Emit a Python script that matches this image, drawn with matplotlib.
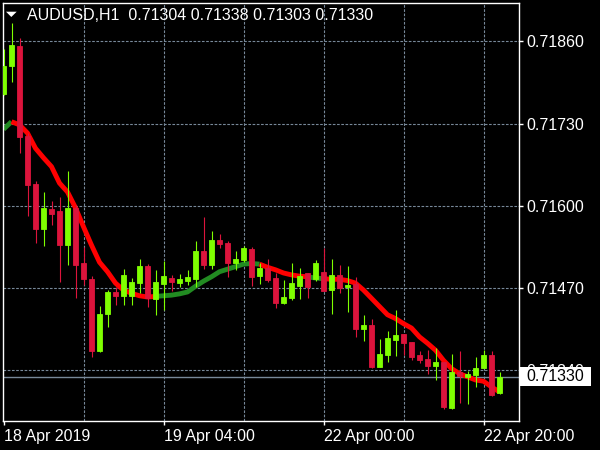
import matplotlib
matplotlib.use("Agg")
import matplotlib.pyplot as plt
from matplotlib.patches import Polygon, Rectangle
from matplotlib.transforms import blended_transform_factory

# AUDUSD H1 bars, oldest first (first bar is cut by the left edge)
opens = [0.71777, 0.71821, 0.71853, 0.71711, 0.71635, 0.71563, 0.71595, 0.71592, 0.71538, 0.71597,
         0.71510, 0.71484, 0.71371, 0.71429, 0.71464, 0.71458, 0.71458, 0.71478, 0.71505, 0.71453,
         0.71477, 0.71486, 0.71478, 0.71481, 0.71484, 0.71529, 0.71507, 0.71546, 0.71541, 0.71510,
         0.71514, 0.71532, 0.71489, 0.71502, 0.71486, 0.71447, 0.71454, 0.71473, 0.71494, 0.71484,
         0.71496, 0.71467, 0.71491, 0.71472, 0.71477, 0.71405, 0.71412, 0.71345, 0.71364, 0.71388,
         0.71398, 0.71385, 0.71364, 0.71358, 0.71347, 0.71353, 0.71281, 0.71337, 0.71330, 0.71333,
         0.71344, 0.71364, 0.71304]
highs = [0.71848, 0.71889, 0.71865, 0.71715, 0.71639, 0.71622, 0.71608, 0.71614, 0.71655, 0.71601,
         0.71535, 0.71489, 0.71442, 0.71467, 0.71472, 0.71500, 0.71486, 0.71516, 0.71508, 0.71498,
         0.71513, 0.71491, 0.71492, 0.71498, 0.71544, 0.71582, 0.71560, 0.71555, 0.71544, 0.71529,
         0.71537, 0.71535, 0.71510, 0.71516, 0.71494, 0.71483, 0.71510, 0.71502, 0.71494, 0.71514,
         0.71533, 0.71516, 0.71507, 0.71505, 0.71488, 0.71428, 0.71421, 0.71390, 0.71402, 0.71435,
         0.71398, 0.71385, 0.71371, 0.71372, 0.71375, 0.71353, 0.71366, 0.71371, 0.71339, 0.71361,
         0.71372, 0.71371, 0.71338]
lows = [0.71775, 0.71796, 0.71683, 0.71584, 0.71542, 0.71537, 0.71570, 0.71480, 0.71507, 0.71454,
        0.71475, 0.71362, 0.71369, 0.71409, 0.71443, 0.71443, 0.71443, 0.71462, 0.71441, 0.71428,
        0.71435, 0.71466, 0.71472, 0.71475, 0.71472, 0.71500, 0.71500, 0.71533, 0.71488, 0.71499,
        0.71511, 0.71473, 0.71477, 0.71480, 0.71439, 0.71445, 0.71451, 0.71453, 0.71454, 0.71481,
        0.71466, 0.71429, 0.71462, 0.71432, 0.71393, 0.71387, 0.71344, 0.71345, 0.71353, 0.71363,
        0.71364, 0.71356, 0.71352, 0.71334, 0.71325, 0.71279, 0.71279, 0.71289, 0.71287, 0.71314,
        0.71344, 0.71300, 0.71303]
closes = [0.71821, 0.71854, 0.71709, 0.71633, 0.71563, 0.71597, 0.71587, 0.71538, 0.71597, 0.71507,
          0.71484, 0.71370, 0.71429, 0.71464, 0.71458, 0.71491, 0.71479, 0.71505, 0.71454, 0.71480,
          0.71489, 0.71480, 0.71484, 0.71488, 0.71529, 0.71507, 0.71546, 0.71540, 0.71510, 0.71516,
          0.71533, 0.71488, 0.71502, 0.71483, 0.71447, 0.71456, 0.71478, 0.71489, 0.71472, 0.71510,
          0.71466, 0.71491, 0.71470, 0.71475, 0.71405, 0.71412, 0.71345, 0.71366, 0.71391, 0.71396,
          0.71383, 0.71361, 0.71356, 0.71347, 0.71353, 0.71282, 0.71337, 0.71331, 0.71334, 0.71344,
          0.71364, 0.71301, 0.71330]

# moving average line, one value per bar
ma = [0.71721, 0.71733, 0.71728, 0.71715, 0.71691, 0.71676, 0.71662, 0.71636, 0.71622, 0.71597,
      0.71567, 0.71538, 0.71511, 0.71496, 0.71478, 0.71467, 0.71462, 0.71458, 0.71456, 0.71457,
      0.71458, 0.71459, 0.71461, 0.71464, 0.71473, 0.71481, 0.71488, 0.71496, 0.71500, 0.71504,
      0.71508, 0.71509, 0.71508, 0.71503, 0.71499, 0.71494, 0.71491, 0.71489, 0.71488, 0.71486,
      0.71485, 0.71484, 0.71484, 0.71482, 0.71478, 0.71467, 0.71454, 0.71441, 0.71428, 0.71422,
      0.71414, 0.71407, 0.71393, 0.71383, 0.71372, 0.71356, 0.71343, 0.71335, 0.71330, 0.71325,
      0.71323, 0.71314, 0.71306]
# bar ranges where the MA is drawn in its "up" colour
ma_up_spans = [(-1, 0), (18, 31), (37, 39)]

price_ticks = [0.71860, 0.71730, 0.71600, 0.71470, 0.71340]
time_ticks = [-1, 19, 39, 59]
time_labels = ['18 Apr 2019', '19 Apr 04:00', '22 Apr 00:00', '22 Apr 20:00']
grid_bars = [9, 19, 29, 39, 49, 59]

symbol = 'AUDUSD,H1'

BULL = '#7FFF00'
BEAR = '#DC143C'
MA_UP = '#228B22'
MA_DN = '#FF0000'
GRID = '#778899'
FONT = 'Liberation Sans'

plt.rcParams['font.family'] = [FONT, 'DejaVu Sans']

fig = plt.figure(figsize=(6, 4.5), dpi=100, facecolor='black')
ax = fig.add_axes([2.5 / 600, 1 - 421 / 450, 516 / 600, 418.3 / 450], facecolor='black')

xs = list(range(-1, len(opens) - 1))

# grid
for p in price_ticks:
    ax.axhline(p, color=GRID, lw=0.8, ls=(0, (2.4, 1.4)), zorder=1)
for b in grid_bars:
    ax.axvline(b, color=GRID, lw=0.8, ls=(0, (2.4, 1.4)), zorder=1)

# last price line
ax.axhline(closes[-1], color=GRID, lw=1.0, zorder=1)

# moving average, split into coloured runs
def is_up(i):
    for a, b in ma_up_spans:
        if a <= i < b:
            return True
    return False

run_x = [xs[0]]
run_y = [ma[0]]
run_up = is_up(xs[0])
for j in range(1, len(xs)):
    seg_up = is_up(xs[j - 1])
    if seg_up != run_up:
        ax.plot(run_x, run_y, color=MA_UP if run_up else MA_DN, lw=3.5,
                solid_capstyle='butt', solid_joinstyle='round', zorder=2)
        run_x = [xs[j - 1]]
        run_y = [ma[j - 1]]
        run_up = seg_up
    run_x.append(xs[j])
    run_y.append(ma[j])
ax.plot(run_x, run_y, color=MA_UP if run_up else MA_DN, lw=3.5,
        solid_capstyle='butt', solid_joinstyle='round', zorder=2)

# candles
for x, o, h, l, c in zip(xs, opens, highs, lows, closes):
    col = BULL if c >= o else BEAR
    ax.vlines(x, l, h, color=col, lw=0.8, zorder=3)
    ax.bar(x, c - o, bottom=o, width=0.56, color=col, edgecolor=col, lw=0.6, zorder=4)

ax.set_xlim(-1.125, 63.375)
ax.set_ylim(0.7126016, 0.7192098)

for s in ax.spines.values():
    s.set_color('white')
    s.set_linewidth(1.0)

ax.yaxis.tick_right()
ax.set_yticks(price_ticks)
ax.set_yticklabels(['%.5f' % p for p in price_ticks])
ax.set_xticks(time_ticks)
ax.set_xticklabels(time_labels, ha='left')
ax.tick_params(colors='white', labelsize=11.5, length=3, width=1, direction='out', pad=3)
for t in ax.get_yticklabels() + ax.get_xticklabels():
    t.set_color('white')

# current price box on the price scale (covers the 0.71340 label, as in the terminal)
tr = blended_transform_factory(ax.transAxes, ax.transData)
box_h = 18.7 / 418.3 * (0.7192098 - 0.7126016)
ax.add_patch(Rectangle((1.003, closes[-1] - box_h / 2), 71 / 516, box_h, transform=tr,
                       facecolor='white', edgecolor='none', clip_on=False, zorder=10))
ax.text(1 + 7.5 / 516, closes[-1], '%.5f' % closes[-1], transform=tr, color='black',
        fontsize=11.5, va='center', ha='left', clip_on=False, zorder=11)

# header
fig.patches.append(Polygon([[6 / 600, 1 - 11.7 / 450], [16.7 / 600, 1 - 11.7 / 450], [11.3 / 600, 1 - 17 / 450]],
                           closed=True, transform=fig.transFigure, facecolor='white', edgecolor='none'))
header = '%s  %.5f %.5f %.5f %.5f' % (symbol, opens[-1], highs[-1], lows[-1], closes[-1])
fig.text(27 / 600, 1 - 15 / 450, header, color='white', fontsize=11.5, va='center', ha='left')

fig.savefig('out.png', dpi=100, facecolor='black')
